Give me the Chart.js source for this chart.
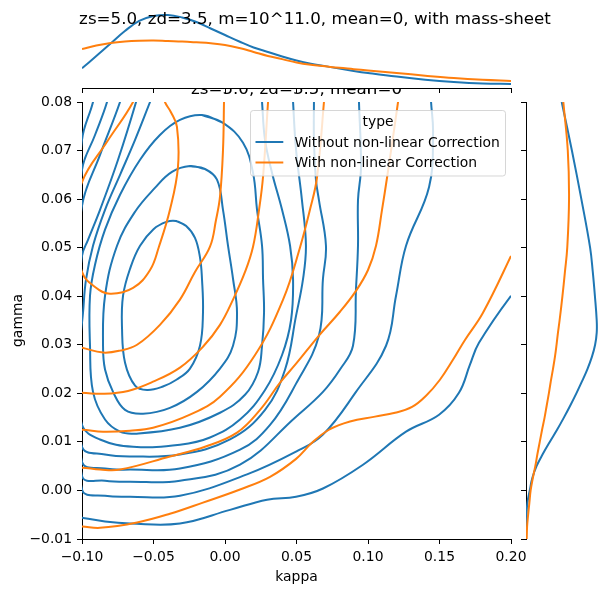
<!DOCTYPE html>
<html>
<head>
<meta charset="utf-8">
<script src="https://cdn.jsdelivr.net/npm/chart.js@4.4.1/dist/chart.umd.min.js"></script>
<style>
html, body { margin: 0; padding: 0; background: #fff; }
#wrap { position: relative; width: 610px; height: 592px; }
#wrap canvas { position: absolute; left: 0; top: 0; }
</style>
</head>
<body>
<div id="wrap">
  <canvas id="jointChart" width="610" height="592"></canvas>
  <canvas id="rightChart" width="610" height="592"></canvas>
  <canvas id="topChart" width="610" height="100"></canvas>
</div>
<script>
// Text
const figTitle = 'zs=5.0, zd=3.5, m=10^11.0, mean=0, with mass-sheet';
const jointTitle = 'zs=5.0, zd=3.5, mean=0';
const legendTitle = 'type';
const seriesNames = ['Without non-linear Correction', 'With non-linear Correction'];

// Tick values
const kappaTicks = [-0.1, -0.05, 0, 0.05, 0.1, 0.15, 0.2];
const gammaTicks = [-0.01, 0, 0.01, 0.02, 0.03, 0.04, 0.05, 0.06, 0.07, 0.08];

// KDE contour lines, [kappa, gamma] pairs, "Without non-linear Correction"
const blue1 = [[-0.0343,0.0555],[-0.0273,0.0545],[-0.0210,0.0520],[-0.0175,0.0480],[-0.0161,0.0436],[-0.0154,0.0366],[-0.0175,0.0298],[-0.0245,0.0251],[-0.0340,0.0228],[-0.0434,0.0214],[-0.0545,0.0207],[-0.0629,0.0216],[-0.0699,0.0263],[-0.0720,0.0333],[-0.0713,0.0401],[-0.0660,0.0460],[-0.0594,0.0504],[-0.0500,0.0538],[-0.0410,0.0553],[-0.0343,0.0555],[-0.0273,0.0545]];
const blue2 = [[-0.0245,0.0668],[-0.0140,0.0662],[-0.0056,0.0640],[-0.0014,0.0578],[0.0021,0.0504],[0.0056,0.0436],[0.0084,0.0366],[0.0056,0.0298],[-0.0035,0.0251],[-0.0196,0.0203],[-0.0385,0.0170],[-0.0573,0.0158],[-0.0699,0.0166],[-0.0783,0.0203],[-0.0839,0.0249],[-0.0853,0.0298],[-0.0839,0.0401],[-0.0755,0.0504],[-0.0629,0.0574],[-0.0490,0.0623],[-0.0371,0.0656],[-0.0245,0.0668],[-0.0140,0.0662]];
const blue3 = [[-0.0161,0.0773],[-0.0014,0.0757],[0.0126,0.0716],[0.0196,0.0654],[0.0224,0.0578],[0.0259,0.0504],[0.0266,0.0436],[0.0273,0.0366],[0.0259,0.0298],[0.0231,0.0244],[0.0140,0.0197],[-0.0035,0.0160],[-0.0315,0.0129],[-0.0629,0.0117],[-0.0734,0.0121],[-0.0839,0.0146],[-0.0923,0.0203],[-0.0944,0.0298],[-0.0944,0.0401],[-0.0909,0.0465],[-0.0839,0.0537],[-0.0734,0.0609],[-0.0594,0.0681],[-0.0455,0.0732],[-0.0315,0.0763],[-0.0161,0.0773],[-0.0014,0.0757]];
const blue4 = [[-0.0470,0.0840],[-0.0524,0.0800],[-0.0629,0.0722],[-0.0734,0.0650],[-0.0839,0.0578],[-0.0923,0.0504],[-0.0972,0.0434],[-0.0993,0.0366],[-0.1028,0.0249],[-0.1000,0.0135],[-0.0874,0.0105],[-0.0643,0.0090],[-0.0315,0.0094],[-0.0105,0.0109],[0.0105,0.0146],[0.0280,0.0207],[0.0399,0.0279],[0.0462,0.0351],[0.0476,0.0434],[0.0455,0.0504],[0.0399,0.0578],[0.0329,0.0654],[0.0280,0.0722],[0.0259,0.0800],[0.0250,0.0840]];
const blue5 = [[-0.0590,0.0840],[-0.0622,0.0800],[-0.0748,0.0681],[-0.0874,0.0578],[-0.0958,0.0516],[-0.1000,0.0483],[-0.1056,0.0290],[-0.1000,0.0090],[-0.0839,0.0074],[-0.0664,0.0070],[-0.0315,0.0074],[0.0035,0.0105],[0.0280,0.0166],[0.0420,0.0249],[0.0497,0.0360],[0.0545,0.0434],[0.0566,0.0504],[0.0538,0.0598],[0.0497,0.0701],[0.0476,0.0800],[0.0470,0.0840]];
const blue6 = [[-0.0700,0.0840],[-0.0734,0.0800],[-0.0874,0.0691],[-0.1000,0.0586],[-0.1070,0.0331],[-0.1000,0.0059],[-0.0839,0.0045],[-0.0664,0.0043],[-0.0315,0.0045],[0.0105,0.0084],[0.0315,0.0135],[0.0497,0.0220],[0.0657,0.0319],[0.0685,0.0436],[0.0706,0.0504],[0.0657,0.0598],[0.0636,0.0640],[0.0622,0.0722],[0.0622,0.0800],[0.0622,0.0840]];
const blue7 = [[-0.0800,0.0840],[-0.0825,0.0800],[-0.0909,0.0732],[-0.1000,0.0660],[-0.1084,0.0351],[-0.1000,0.0030],[-0.0839,0.0020],[-0.0664,0.0018],[-0.0315,0.0020],[0.0105,0.0053],[0.0497,0.0152],[0.0685,0.0203],[0.0804,0.0249],[0.0895,0.0298],[0.0916,0.0415],[0.0930,0.0504],[0.0930,0.0598],[0.0951,0.0666],[0.0937,0.0800],[0.0935,0.0840]];
const blue8 = [[-0.0900,0.0840],[-0.0923,0.0800],[-0.1000,0.0722],[-0.1098,0.0351],[-0.1000,0.0002],[-0.0839,-0.0011],[-0.0664,-0.0013],[-0.0315,-0.0011],[0.0154,0.0033],[0.0497,0.0080],[0.0685,0.0115],[0.0916,0.0203],[0.1126,0.0298],[0.1196,0.0401],[0.1266,0.0504],[0.1427,0.0625],[0.1455,0.0736],[0.1441,0.0800],[0.1435,0.0840]];
const blue9 = [[-0.1100,-0.0050],[-0.1000,-0.0056],[-0.0839,-0.0064],[-0.0664,-0.0068],[-0.0315,-0.0068],[0.0035,-0.0040],[0.0294,-0.0019],[0.0497,-0.0013],[0.0685,0.0004],[0.0965,0.0053],[0.1266,0.0121],[0.1497,0.0156],[0.1636,0.0201],[0.1713,0.0259],[0.1776,0.0304],[0.2000,0.0401],[0.2133,0.0444]];

// KDE contour lines, "With non-linear Correction"
const orange1 = [[-0.0600,0.0840],[-0.0643,0.0800],[-0.0825,0.0718],[-0.1000,0.0635],[-0.1049,0.0541],[-0.1000,0.0450],[-0.0909,0.0419],[-0.0804,0.0405],[-0.0643,0.0417],[-0.0524,0.0454],[-0.0462,0.0502],[-0.0385,0.0578],[-0.0329,0.0666],[-0.0336,0.0749],[-0.0378,0.0779],[-0.0420,0.0800],[-0.0450,0.0830]];
const orange2 = [[-0.1100,0.0300],[-0.1000,0.0294],[-0.0853,0.0284],[-0.0734,0.0288],[-0.0615,0.0300],[-0.0455,0.0341],[-0.0315,0.0393],[-0.0210,0.0450],[-0.0105,0.0502],[-0.0063,0.0557],[-0.0035,0.0605],[-0.0014,0.0701],[-0.0007,0.0800],[-0.0005,0.0840]];
const orange3 = [[-0.1100,0.0200],[-0.1000,0.0201],[-0.0853,0.0199],[-0.0678,0.0205],[-0.0503,0.0224],[-0.0315,0.0253],[-0.0154,0.0296],[-0.0035,0.0341],[0.0056,0.0393],[0.0140,0.0450],[0.0196,0.0502],[0.0238,0.0578],[0.0266,0.0646],[0.0301,0.0800],[0.0310,0.0840]];
const orange4 = [[-0.1100,0.0124],[-0.1000,0.0125],[-0.0853,0.0121],[-0.0664,0.0123],[-0.0503,0.0129],[-0.0245,0.0156],[-0.0035,0.0193],[0.0210,0.0279],[0.0406,0.0393],[0.0524,0.0500],[0.0594,0.0578],[0.0643,0.0644],[0.0692,0.0800],[0.0700,0.0840]];
const orange5 = [[-0.1100,0.0047],[-0.1000,0.0047],[-0.0874,0.0043],[-0.0734,0.0043],[-0.0385,0.0070],[-0.0140,0.0090],[0.0084,0.0119],[0.0245,0.0166],[0.0385,0.0222],[0.0497,0.0261],[0.0657,0.0319],[0.0804,0.0368],[0.0916,0.0411],[0.1000,0.0454],[0.1056,0.0504],[0.1098,0.0578],[0.1133,0.0644],[0.1210,0.0800],[0.1225,0.0840]];
const orange6 = [[-0.1100,-0.0073],[-0.1000,-0.0074],[-0.0874,-0.0077],[-0.0615,-0.0066],[-0.0385,-0.0048],[-0.0154,-0.0025],[0.0105,0.0002],[0.0315,0.0028],[0.0497,0.0065],[0.0608,0.0098],[0.0727,0.0125],[0.0874,0.0142],[0.1049,0.0152],[0.1189,0.0160],[0.1308,0.0172],[0.1406,0.0195],[0.1503,0.0228],[0.1594,0.0269],[0.1678,0.0310],[0.1804,0.0366],[0.2000,0.0483],[0.2098,0.0547]];

// Marginal densities of kappa (top)
const kappaGrid = [-0.1, -0.09, -0.08, -0.07, -0.06, -0.05, -0.04, -0.03, -0.02, -0.01, 0, 0.01, 0.02, 0.03, 0.04, 0.05, 0.06, 0.07, 0.08, 0.09, 0.1, 0.12, 0.14, 0.16, 0.18, 0.2];
const kappaDensBlue = [2.59, 4.21, 5.86, 7.5, 8.82, 9.47, 9.61, 9.28, 8.68, 7.83, 6.97, 6.12, 5.33, 4.74, 4.14, 3.62, 3.2, 2.88, 2.55, 2.25, 1.98, 1.5, 1.1, 0.8, 0.6, 0.53];
const kappaDensOrange = [5.13, 5.59, 5.92, 6.12, 6.22, 6.25, 6.18, 6.12, 6.01, 5.88, 5.66, 5.26, 4.74, 4.21, 3.8, 3.35, 3.05, 2.85, 2.65, 2.48, 2.3, 1.98, 1.62, 1.3, 1.07, 0.92];

// Marginal densities of gamma (right)
const gammaGrid = [-0.01, -0.0075, -0.005, -0.0025, 0, 0.0025, 0.005, 0.0075, 0.01, 0.0125, 0.015, 0.0175, 0.02, 0.0225, 0.025, 0.0275, 0.03, 0.0325, 0.035, 0.04, 0.045, 0.05, 0.06, 0.07, 0.08];
const gammaDensBlue = [0, 0.1, 0.3, 0.8, 2.1, 3.5, 5.9, 9.4, 13.3, 17.4, 21.2, 24.8, 28.2, 31.4, 34.4, 36.9, 38.7, 39.6, 39.6, 38.6, 37.4, 35.9, 31.0, 25.7, 20.0];
const gammaDensOrange = [0.4, 0.6, 1.2, 1.9, 2.6, 3.8, 5.2, 6.4, 7.7, 9.0, 10.4, 11.6, 12.8, 13.9, 15.1, 16.2, 17.1, 17.9, 18.8, 20.4, 21.8, 23.1, 24.1, 23.4, 20.9];

const BLUE = '#1f77b4';
const ORANGE = '#ff7f0e';
const FONT = '"DejaVu Sans", sans-serif';

Chart.defaults.font.family = FONT;
Chart.defaults.font.size = 13.9;
Chart.defaults.color = '#000';

function toPts(arr) {
    return arr.map(p => ({x: p[0], y: p[1]}));
}

function fmtTick(v) {
    const s = Math.abs(v).toFixed(2);
    return v < -1e-9 ? '\u2212' + s : s;
}

function lineSet(points, color, order) {
    return {
        data: points,
        showLine: true,
        borderColor: color,
        borderWidth: 2,
        pointRadius: 0,
        tension: 0.4,
        fill: false,
        clip: 0,
        order: order
    };
}

function axisStyle() {
    return {
        grid: { drawOnChartArea: false, drawTicks: true, tickLength: 5, color: '#000', tickWidth: 1 },
        border: { display: true, color: '#000', width: 1 }
    };
}

// Joint plot
const jointSets = [];
[blue1, blue2, blue3, blue4, blue5, blue6, blue7, blue8, blue9].forEach(c => jointSets.push(lineSet(toPts(c), BLUE, 1)));
[orange1, orange2, orange3, orange4, orange5, orange6].forEach(c => jointSets.push(lineSet(toPts(c), ORANGE, 0)));

const jointExtras = {
    id: 'jointExtras',
    afterDraw(chart) {
        const ctx = chart.ctx;
        const area = chart.chartArea;
        ctx.save();
        // axes title (upper part gets hidden by the top marginal)
        ctx.font = '16.7px ' + FONT;
        ctx.fillStyle = '#000';
        ctx.textAlign = 'center';
        ctx.textBaseline = 'alphabetic';
        ctx.fillText(jointTitle, (area.left + area.right) / 2, 93.7);

        // legend
        ctx.beginPath();
        ctx.roundRect(250.5, 110.5, 255, 65.5, 2.8);
        ctx.fillStyle = 'rgba(255,255,255,0.8)';
        ctx.fill();
        ctx.strokeStyle = 'rgba(204,204,204,0.8)';
        ctx.lineWidth = 1;
        ctx.stroke();

        ctx.font = '13.9px ' + FONT;
        ctx.fillStyle = '#000';
        ctx.textBaseline = 'middle';
        ctx.textAlign = 'center';
        ctx.fillText(legendTitle, 378, 122);

        const rows = [142, 162.5];
        const colors = [BLUE, ORANGE];
        ctx.textAlign = 'left';
        rows.forEach((y, i) => {
            ctx.beginPath();
            ctx.moveTo(255.5, y);
            ctx.lineTo(283.3, y);
            ctx.strokeStyle = colors[i];
            ctx.lineWidth = 2;
            ctx.stroke();
            ctx.fillStyle = '#000';
            ctx.fillText(seriesNames[i], 294.4, y + 1);
        });
        ctx.restore();
    }
};

new Chart(document.getElementById('jointChart'), {
    type: 'scatter',
    data: { datasets: jointSets },
    options: {
        responsive: false,
        animation: false,
        events: [],
        layout: { padding: { top: 102, right: 99, left: 0, bottom: 0 } },
        elements: { line: { capBezierPoints: false } },
        plugins: { legend: { display: false }, tooltip: { enabled: false } },
        scales: {
            x: Object.assign(axisStyle(), {
                type: 'linear',
                min: -0.1,
                max: 0.2,
                afterBuildTicks: s => { s.ticks = kappaTicks.map(v => ({ value: v })); },
                afterFit: s => { s.height = 53; },
                ticks: { callback: v => fmtTick(v), padding: 5, maxRotation: 0, autoSkip: false },
                title: { display: true, text: 'kappa', padding: { top: 0, bottom: 6.7 } }
            }),
            y: Object.assign(axisStyle(), {
                type: 'linear',
                min: -0.01,
                max: 0.08,
                afterBuildTicks: s => { s.ticks = gammaTicks.map(v => ({ value: v })); },
                afterFit: s => { s.width = 82; },
                ticks: { callback: v => fmtTick(v), padding: 5, autoSkip: false },
                title: { display: true, text: 'gamma', padding: { top: 9.7, bottom: 0 } }
            })
        }
    },
    plugins: [jointExtras]
});

// Right marginal (gamma density)
new Chart(document.getElementById('rightChart'), {
    type: 'scatter',
    data: {
        datasets: [
            lineSet(gammaGrid.map((g, i) => ({ x: gammaDensBlue[i], y: g })), BLUE, 1),
            lineSet(gammaGrid.map((g, i) => ({ x: gammaDensOrange[i], y: g })), ORANGE, 0)
        ]
    },
    options: {
        responsive: false,
        animation: false,
        events: [],
        layout: { padding: { top: 102, right: 9, left: 520, bottom: 53 } },
        plugins: { legend: { display: false }, tooltip: { enabled: false } },
        scales: {
            x: { type: 'linear', display: false, min: 0, max: 42 },
            y: Object.assign(axisStyle(), {
                type: 'linear',
                min: -0.01,
                max: 0.08,
                afterBuildTicks: s => { s.ticks = gammaTicks.map(v => ({ value: v })); },
                afterFit: s => { s.width = 6; },
                ticks: { callback: () => '', padding: 0, autoSkip: false }
            })
        }
    }
});

// Top marginal (kappa density) and figure title
const topExtras = {
    id: 'topExtras',
    beforeDraw(chart) {
        const ctx = chart.ctx;
        ctx.save();
        ctx.fillStyle = '#fff';
        ctx.fillRect(0, 0, chart.width, chart.chartArea.bottom);
        ctx.restore();
    },
    afterDraw(chart) {
        const ctx = chart.ctx;
        ctx.save();
        ctx.font = '16.7px ' + FONT;
        ctx.fillStyle = '#000';
        ctx.textAlign = 'center';
        ctx.textBaseline = 'alphabetic';
        ctx.fillText(figTitle, 315, 24);
        ctx.restore();
    }
};

new Chart(document.getElementById('topChart'), {
    type: 'scatter',
    data: {
        datasets: [
            lineSet(kappaGrid.map((k, i) => ({ x: k, y: kappaDensBlue[i] })), BLUE, 1),
            lineSet(kappaGrid.map((k, i) => ({ x: k, y: kappaDensOrange[i] })), ORANGE, 0)
        ]
    },
    options: {
        responsive: false,
        animation: false,
        events: [],
        layout: { padding: { top: 12, right: 99, left: 82, bottom: 0 } },
        plugins: { legend: { display: false }, tooltip: { enabled: false } },
        scales: {
            x: Object.assign(axisStyle(), {
                type: 'linear',
                min: -0.1,
                max: 0.2,
                afterBuildTicks: s => { s.ticks = kappaTicks.map(v => ({ value: v })); },
                afterFit: s => { s.height = 12; },
                ticks: { callback: () => '', padding: 0, maxRotation: 0, autoSkip: false }
            }),
            y: { type: 'linear', display: false, min: 0, max: 10 }
        }
    },
    plugins: [topExtras]
});
</script>
</body>
</html>
